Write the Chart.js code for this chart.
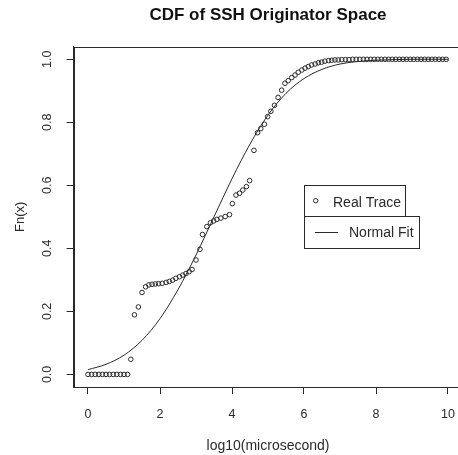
<!DOCTYPE html>
<html>
<head>
<meta charset="utf-8">
<script src="https://cdn.jsdelivr.net/npm/chart.js@4.4.0/dist/chart.umd.min.js"></script>
<style>
  html, body { margin: 0; padding: 0; background: #fff; overflow: hidden; }
  #wrap { width: 470px; height: 455px; }
</style>
</head>
<body>
<div id="wrap"><canvas id="cdf" width="470" height="455"></canvas></div>
<script>
// ======== Данные ========
const traceX = [0, 0.1, 0.2, 0.3, 0.4, 0.5, 0.6, 0.7, 0.8, 0.9, 1.0, 1.1,
  1.19, 1.29, 1.40, 1.50, 1.60, 1.69, 1.78, 1.87, 1.96, 2.06, 2.17, 2.26, 2.35,
  2.44, 2.54, 2.63, 2.72, 2.81, 2.89, 3.00, 3.11, 3.18, 3.30, 3.40, 3.49, 3.58,
  3.69, 3.81, 3.93, 4.01, 4.11, 4.21, 4.30, 4.40, 4.49, 4.61, 4.71, 4.80, 4.90,
  4.99, 5.08, 5.18, 5.28, 5.38, 5.47, 5.56, 5.66, 5.75, 5.84, 5.94, 6.03, 6.12,
  6.21, 6.31, 6.40, 6.49, 6.58, 6.68, 6.77, 6.86, 6.95, 7.05, 7.15, 7.25, 7.35,
  7.45, 7.55, 7.65, 7.75, 7.85, 7.95, 8.05, 8.15, 8.25, 8.35, 8.45, 8.55, 8.65,
  8.75, 8.85, 8.95, 9.05, 9.15, 9.25, 9.35, 9.45, 9.55, 9.65, 9.75, 9.85, 9.95];
const traceY = [0, 0, 0, 0, 0, 0, 0, 0, 0, 0, 0, 0,
  0.048, 0.189, 0.214, 0.260, 0.278, 0.284, 0.286, 0.287, 0.288, 0.289, 0.292, 0.295, 0.299,
  0.305, 0.310, 0.315, 0.320, 0.326, 0.333, 0.363, 0.397, 0.444, 0.469, 0.481, 0.487, 0.492,
  0.496, 0.501, 0.507, 0.542, 0.569, 0.575, 0.585, 0.596, 0.615, 0.711, 0.767, 0.780, 0.794,
  0.818, 0.835, 0.854, 0.879, 0.902, 0.924, 0.932, 0.942, 0.950, 0.959, 0.966, 0.972, 0.977,
  0.982, 0.985, 0.989, 0.991, 0.994, 0.996, 0.997, 0.998, 0.998, 0.999, 0.999, 0.999, 1.0,
  1.0, 1.0, 1.0, 1.0, 1.0, 1.0, 1.0, 1.0, 1.0, 1.0, 1.0, 1.0, 1.0,
  1.0, 1.0, 1.0, 1.0, 1.0, 1.0, 1.0, 1.0, 1.0, 1.0, 1.0, 1.0, 1.0];

const fitX = [0, 0.5, 1.0, 1.5, 2.0, 2.5, 3.0, 3.5, 4.0, 4.5, 5.0,
  5.5, 6.0, 6.5, 7.0, 7.5, 8.0, 8.5, 9.0, 9.5, 10.0];
const fitY = [0.015, 0.032, 0.061, 0.108, 0.177, 0.269, 0.379, 0.500, 0.621, 0.731, 0.823,
  0.892, 0.939, 0.968, 0.985, 0.993, 0.997, 0.999, 1.0, 1.0, 1.0];

const xTicks = [0, 2, 4, 6, 8, 10];
const yTicks = [0, 0.2, 0.4, 0.6, 0.8, 1.0];
const yTickLabels = ['0.0', '0.2', '0.4', '0.6', '0.8', '1.0'];

const ink = '#2a2a2a';
const font = 'Arial, "Liberation Sans", sans-serif';

// ======== Рамка, подписи, легенда ========
const decor = {
  id: 'decor',
  afterDraw(chart) {
    const ctx = chart.ctx;
    const a = chart.chartArea;
    const xs = chart.scales.x, ys = chart.scales.y;
    ctx.save();
    ctx.strokeStyle = ink;
    ctx.lineWidth = 1;
    ctx.strokeRect(Math.round(a.left) + 0.5, Math.round(a.top) + 0.5,
      Math.round(a.right - a.left), Math.round(a.bottom - a.top));

    ctx.fillStyle = '#111';
    ctx.textAlign = 'center';
    ctx.textBaseline = 'alphabetic';
    const midX = (a.left + a.right) / 2;

    ctx.font = 'bold 17px ' + font;
    ctx.fillText('CDF of SSH Originator Space', midX, 20);

    ctx.fillStyle = ink;
    ctx.font = '12.5px ' + font;
    xTicks.forEach(v => ctx.fillText(String(v), xs.getPixelForValue(v), 418));

    ctx.font = '14px ' + font;
    ctx.fillText('log10(microsecond)', midX, 450);

    ctx.font = '12.5px ' + font;
    yTicks.forEach((v, i) => {
      ctx.save();
      ctx.translate(51, ys.getPixelForValue(v));
      ctx.rotate(-Math.PI / 2);
      ctx.fillText(yTickLabels[i], 0, 0);
      ctx.restore();
    });

    ctx.save();
    ctx.font = '13px ' + font;
    ctx.translate(24, (a.top + a.bottom) / 2);
    ctx.rotate(-Math.PI / 2);
    ctx.fillText('Fn(x)', 0, 0);
    ctx.restore();

    // две рамки легенды, как в R
    ctx.fillStyle = '#fff';
    ctx.fillRect(304.5, 185.5, 101, 31);
    ctx.strokeRect(304.5, 185.5, 101, 31);
    ctx.fillRect(304.5, 216.5, 115, 32);
    ctx.strokeRect(304.5, 216.5, 115, 32);

    ctx.beginPath();
    ctx.arc(315.7, 200.7, 2.2, 0, Math.PI * 2);
    ctx.stroke();
    ctx.beginPath();
    ctx.moveTo(315, 232.5);
    ctx.lineTo(338, 232.5);
    ctx.stroke();

    ctx.fillStyle = ink;
    ctx.textAlign = 'left';
    ctx.font = '14px ' + font;
    ctx.fillText('Real Trace', 333, 207);
    ctx.fillText('Normal Fit', 349, 237);
    ctx.restore();
  }
};

new Chart(document.getElementById('cdf'), {
  type: 'scatter',
  data: {
    datasets: [
      {
        label: 'Real Trace',
        data: traceX.map((x, i) => ({ x, y: traceY[i] })),
        pointStyle: 'circle',
        pointRadius: 2.3,
        pointBorderWidth: 1,
        borderColor: ink,
        backgroundColor: 'rgba(0,0,0,0)',
        showLine: false
      },
      {
        label: 'Normal Fit',
        data: fitX.map((x, i) => ({ x, y: fitY[i] })),
        showLine: true,
        pointRadius: 0,
        borderColor: ink,
        borderWidth: 1,
        cubicInterpolationMode: 'monotone'
      }
    ]
  },
  options: {
    responsive: false,
    animation: false,
    layout: { padding: { top: 46.7, right: 7.6, left: 0, bottom: 0 } },
    plugins: { legend: { display: false }, title: { display: false }, tooltip: { enabled: false } },
    scales: {
      x: {
        type: 'linear',
        min: -0.4,
        max: 10.4,
        afterBuildTicks: s => { s.ticks = xTicks.map(v => ({ value: v })); },
        afterFit: s => { s.height = 68; },
        ticks: { display: false },
        grid: { drawOnChartArea: false, drawTicks: true, tickLength: 7, color: ink },
        border: { display: true, color: ink }
      },
      y: {
        type: 'linear',
        min: -0.04,
        max: 1.04,
        afterBuildTicks: s => { s.ticks = yTicks.map(v => ({ value: v })); },
        afterFit: s => { s.width = 73.6; },
        ticks: { display: false },
        grid: { drawOnChartArea: false, drawTicks: true, tickLength: 7, color: ink },
        border: { display: true, color: ink }
      }
    }
  },
  plugins: [decor]
});
</script>
</body>
</html>
